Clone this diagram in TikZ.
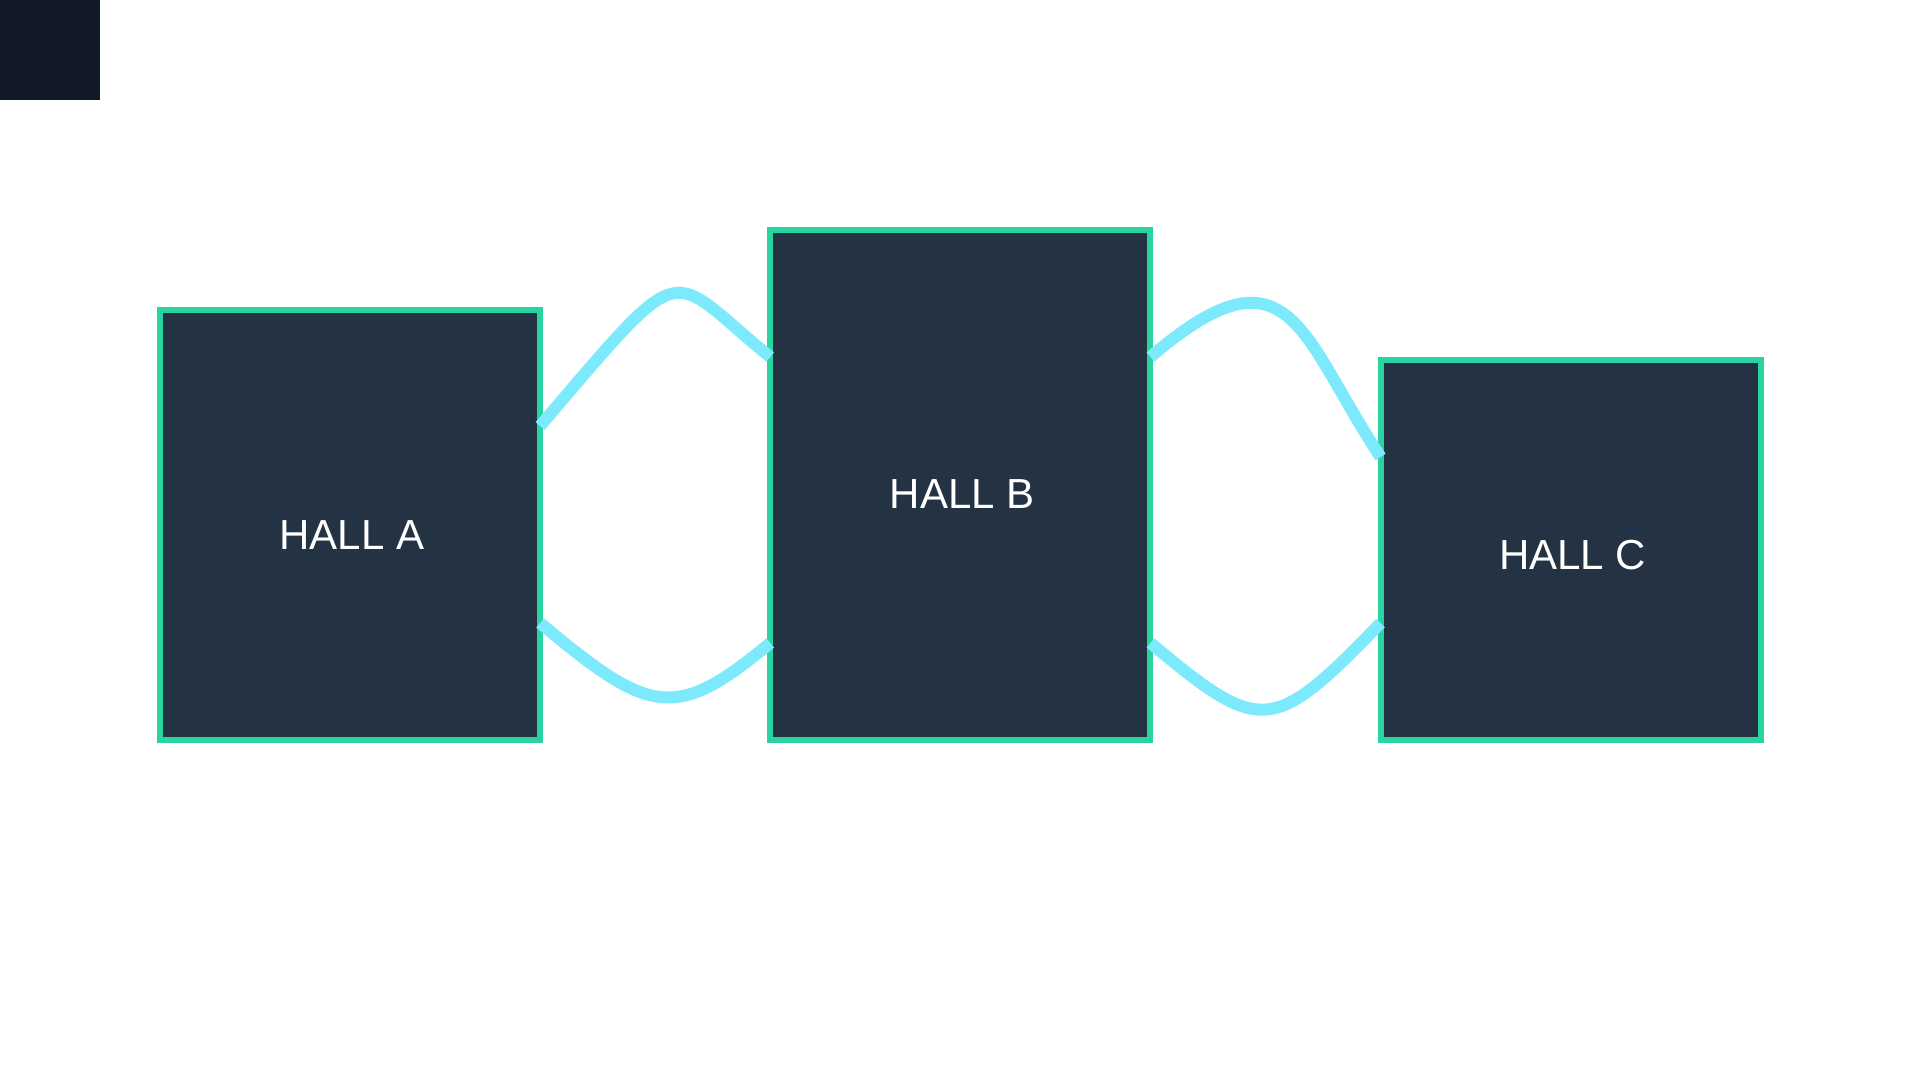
\documentclass[tikz,border=0pt]{standalone}
\usepackage{fontspec}
\setmainfont{Liberation Sans}
\usetikzlibrary{positioning}

\definecolor{cornerdark}{RGB}{17,24,39}
\definecolor{hallfill}{RGB}{36,51,68}
\definecolor{hallgreen}{RGB}{42,212,160}
\definecolor{linkcyan}{RGB}{125,233,252}

\begin{document}
\begin{tikzpicture}[x=0.01cm,y=-0.01cm,
  hall/.style={rectangle, draw=hallgreen, line width=0.06cm, fill=hallfill,
    minimum width=3.8cm, inner sep=0pt, outer sep=0pt},
  hallname/.style={text=white, font=\fontsize{11.95}{14}\selectfont, inner sep=0pt},
  link/.style={draw=linkcyan, line width=0.12cm}]

\useasboundingbox (0,0) rectangle (1920,1080);

% corner block
\fill[cornerdark] (0,0) rectangle (100,100);

% Halls
\node[hall, minimum height=4.3cm] (hallA) at (350,525) {};
\node[hall, minimum height=5.1cm, right=2.3cm of hallA.south east, anchor=south west] (hallB) {};
\node[hall, minimum height=3.8cm, right=2.3cm of hallB.south east, anchor=south west] (hallC) {};

% Hall names
\node[hallname] (nameA) at ([shift={(2,10)}]hallA.center) {HALL A};
\node[hallname] (nameB) at ([shift={(2,9)}]hallB.center) {HALL B};
\node[hallname] (nameC) at ([shift={(2,5)}]hallC.center) {HALL C};

% ports on the walls
\coordinate (a1) at ([shift={(0,-99)}]hallA.east);
\coordinate (a2) at ([shift={(0,98)}]hallA.east);
\coordinate (b1) at ([shift={(0,-128)}]hallB.west);
\coordinate (b2) at ([shift={(0,158)}]hallB.west);
\coordinate (b3) at ([shift={(0,-128)}]hallB.east);
\coordinate (b4) at ([shift={(0,158)}]hallB.east);
\coordinate (c1) at ([shift={(0,-93)}]hallC.west);
\coordinate (c2) at ([shift={(0,73)}]hallC.west);

% Corridors
\draw[link] (a1) .. controls +(150,-176) and +(-105,-85) .. (b1); % A to B top
\draw[link] (a2) .. controls +(110,92) and +(-95,79) .. (b2); % A to B bottom
\draw[link] (b3) .. controls +(140,-120) and +(-80,-120) .. (c1); % B to C top
\draw[link] (b4) .. controls +(110,92) and +(-108,112) .. (c2); % B to C bottom
\end{tikzpicture}
\end{document}
